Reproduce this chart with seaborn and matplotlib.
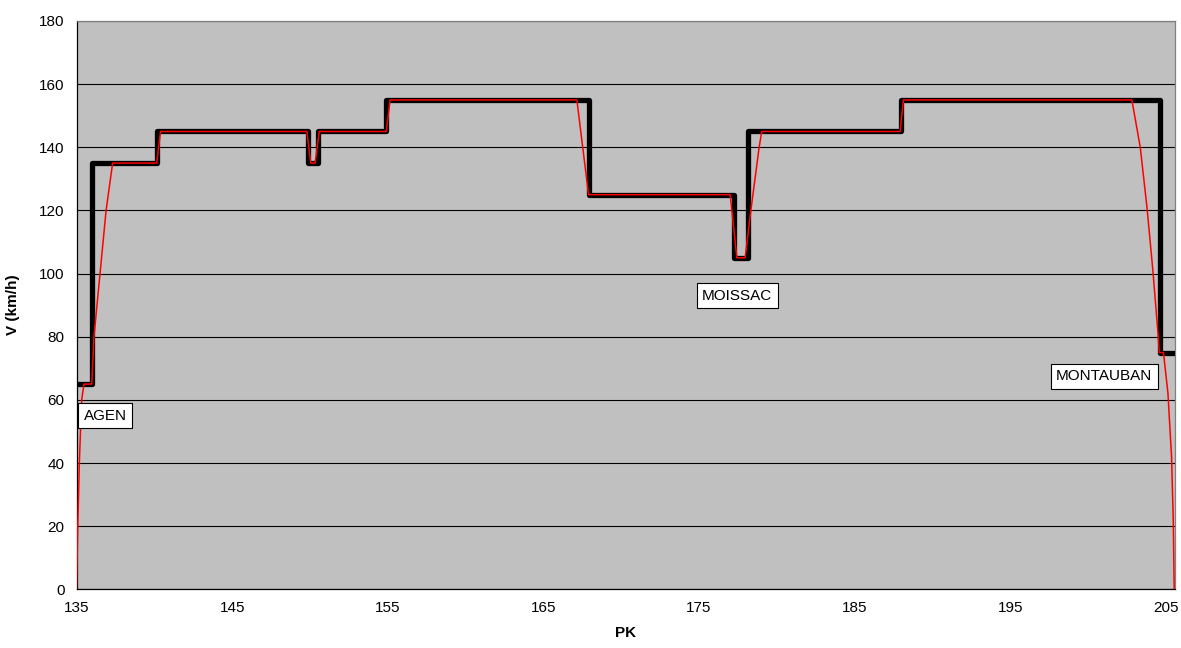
import numpy as np
import pandas as pd
import matplotlib
matplotlib.use("Agg")
import matplotlib.pyplot as plt
import seaborn as sns

# speed limit (black steps), km/h from each PK onwards
limit_pk = [135.0, 135.98, 140.15, 149.9, 150.5, 154.9, 167.9, 177.26, 178.12, 187.99, 204.59, 205.55]
limit_v = [65, 135, 145, 135, 145, 155, 125, 105, 145, 155, 75, 75]

run_pk = [135.0, 135.08, 135.18, 135.33, 135.48, 135.98, 136.12, 136.51, 136.9, 137.32,
          140.15, 140.4, 149.8, 150.05, 150.33, 150.6, 154.9, 155.15, 167.15, 167.9,
          177.0, 177.43, 177.96, 178.33, 178.86, 179.03, 187.92, 188.13, 202.81, 203.35,
          203.78, 204.16, 204.49, 204.57, 204.84, 205.13, 205.36, 205.47, 205.53]
run_v = [0, 20, 40, 60, 65, 65, 80, 100, 120, 135,
         135, 145, 145, 135, 135, 145, 145, 155, 155, 125,
         125, 105, 105, 120, 140, 145, 145, 155, 155, 140,
         121, 101, 81, 75, 75, 62, 42, 22, 0]

# station labels
stations = ["AGEN", "MOISSAC", "MONTAUBAN"]
station_pk = [135.45, 175.2, 197.95]
station_v = [55, 93, 67.4]

sns.set_style("white")
plt.rcParams["font.family"] = ["Liberation Sans", "DejaVu Sans"]
plt.rcParams["text.color"] = "black"
plt.rcParams["axes.labelcolor"] = "black"

fig = plt.figure(figsize=(11.81, 6.48), dpi=100)
ax = fig.add_axes([0.0648, 0.0906, 0.9297, 0.877])
ax.set_facecolor("#C0C0C0")

sns.lineplot(x=limit_pk, y=limit_v, drawstyle="steps-post", sort=False, estimator=None,
             color="black", linewidth=3.8, ax=ax, zorder=3)
sns.lineplot(x=run_pk, y=run_v, sort=False, estimator=None,
             color="red", linewidth=1.1, ax=ax, zorder=4)

for name, x, y in zip(stations, station_pk, station_v):
    ax.text(x, y, name, fontsize=11, va="center", ha="left", zorder=5, color="black",
            bbox=dict(boxstyle="square,pad=0.35", facecolor="white", edgecolor="black", linewidth=0.8))

ax.set_xlim(135, 205.55)
ax.set_ylim(0, 180)
ax.set_xticks(np.arange(135, 206, 10))
ax.set_yticks(np.arange(0, 181, 20))
ax.yaxis.grid(True, color="black", linewidth=0.8)
ax.xaxis.grid(False)
ax.set_axisbelow(True)
ax.tick_params(axis="both", direction="out", length=5, width=0.8, labelsize=11,
               colors="black", labelcolor="black")

for s in ["left", "bottom"]:
    ax.spines[s].set_color("black")
    ax.spines[s].set_linewidth(0.9)
for s in ["top", "right"]:
    ax.spines[s].set_color("#808080")
    ax.spines[s].set_linewidth(0.9)

ax.set_xlabel("PK", fontsize=11, fontweight="bold", labelpad=8)
ax.set_ylabel("V (km/h)", fontsize=11, fontweight="bold", labelpad=14)

fig.savefig("out.png", dpi=100)
